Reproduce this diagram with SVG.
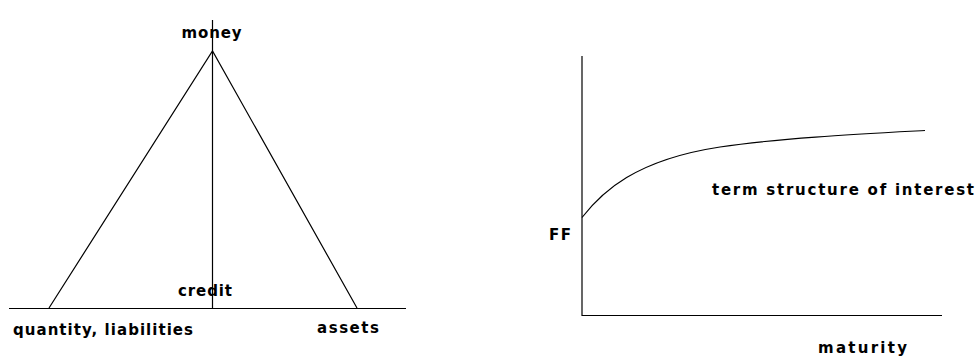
<svg xmlns="http://www.w3.org/2000/svg" width="979" height="358" viewBox="0 0 979 358">
<style>
.t{font-family:"DejaVu Sans","Liberation Sans",Arial,sans-serif;font-weight:bold;font-size:15px;fill:#000}
.l{stroke:#000;stroke-width:1.2;fill:none}
</style>
<rect width="979" height="358" fill="#fff"/>
<g id="connectors">
<line class="l" x1="212.5" y1="20" x2="212.5" y2="308"/>
<line class="l" x1="9" y1="308.5" x2="406" y2="308.5"/>
<polyline class="l" points="49,308 212.5,51 357,308"/>
<line class="l" x1="582" y1="56" x2="582" y2="316"/>
<line class="l" x1="582" y1="315.5" x2="942" y2="315.5"/>
<path class="l" d="M582,217.5 C602,192 635,160 720,147 C780,138 860,134 925,130.5"/>
</g>
<g id="money"><text class="t" x="181.5" y="38" textLength="60" lengthAdjust="spacing">money</text></g>
<g id="credit"><text class="t" x="178" y="296" textLength="54" lengthAdjust="spacing">credit</text></g>
<g id="quantity"><text class="t" x="13" y="335" textLength="180" lengthAdjust="spacing">quantity, liabilities</text></g>
<g id="assets"><text class="t" x="317" y="333" textLength="62" lengthAdjust="spacing">assets</text></g>
<g id="term"><text class="t" x="712" y="195" textLength="262" lengthAdjust="spacing">term structure of interest</text></g>
<g id="ff"><text class="t" x="549" y="240" textLength="22" lengthAdjust="spacing">FF</text></g>
<g id="maturity"><text class="t" x="818" y="353" textLength="89" lengthAdjust="spacing">maturity</text></g>
</svg>
